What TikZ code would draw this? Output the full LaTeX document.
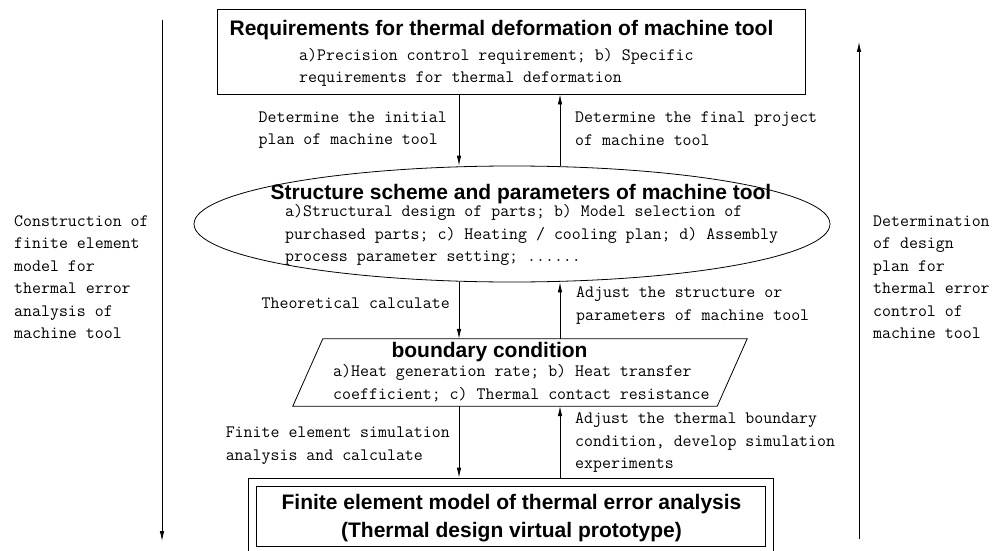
\documentclass[tikz,border=0pt]{standalone}
\usepackage{fontspec}
\newfontfamily\headfont{Liberation Sans}
\usetikzlibrary{arrows.meta,shapes.geometric}

\tikzset{
  flowline/.style={line width=0.8pt,-{Latex[length=10pt,width=4.5pt]}},
  frame/.style={draw,line width=0.8pt,inner sep=0pt},
  headtext/.style={font=\headfont\bfseries\fontsize{21}{28}\selectfont,inner sep=0pt},
  bodytext/.style={font=\ttfamily\fontsize{17.4}{22.5}\selectfont,align=left,inner sep=0pt},
}

\begin{document}
\begin{tikzpicture}[x=1pt,y=-1pt]
\useasboundingbox (0,0) rectangle (1001,551);
\newcommand{\dnx}{459}
\newcommand{\upx}{560}
\coordinate (dnline) at (\dnx,0);
\coordinate (upline) at (\upx,0);

% frames
\node[frame,minimum width=588pt,minimum height=85pt] (reqbox) at (511,51.5) {};
\node[frame,ellipse,minimum width=636pt,minimum height=116pt] (schemeell) at (512,224) {};
\node[inner sep=0pt,minimum width=424pt,minimum height=67pt] (bcbox) at (505,372.5) {};
\draw[line width=0.8pt] (bcbox.south west) -- (bcbox.south east) -- ([xshift=30pt]bcbox.north east) -- ([xshift=30pt]bcbox.north west) -- cycle;
\node[frame,minimum width=525pt,minimum height=76pt] (femouter) at (510.5,516) {};
\node[frame,minimum width=509pt,minimum height=60pt] (feminner) at (510.5,516) {};

% texts in the frames (base = last line)
\node[headtext,anchor=base] (reqtitle) at (501.5,35.5) {Requirements for thermal deformation of machine tool};
\node[bodytext,anchor=base west] (reqtext) at (299,82.5) {a)Precision control requirement; b) Specific\\requirements for thermal deformation};
\node[headtext,anchor=base] (schemetitle) at (521,199) {Structure scheme and parameters of machine tool};
\node[bodytext,anchor=base west] (schemetext) at (285,261.5) {a)Structural design of parts; b) Model selection of\\purchased parts; c) Heating / cooling plan; d) Assembly\\process parameter setting; ......};
\node[headtext,anchor=base] (bctitle) at (489.5,357.5) {boundary condition};
\node[bodytext,anchor=base west] (bctext) at (333,399) {a)Heat generation rate; b) Heat transfer\\coefficient; c) Thermal contact resistance};
\node[headtext,align=center] (femtext) at (511.5,518.5) {Finite element model of thermal error analysis\\(Thermal design virtual prototype)};

% connectors
\draw[flowline] (reqbox.south -| dnline) -- (schemeell.north -| dnline);
\draw[flowline] (schemeell.north -| upline) -- (reqbox.south -| upline);
\draw[flowline] (schemeell.south -| dnline) -- (bcbox.north -| dnline);
\draw[flowline] (bcbox.north -| upline) -- (schemeell.south -| upline);
\draw[flowline] (bcbox.south -| dnline) -- (femouter.north -| dnline);
\draw[flowline] (femouter.north -| upline) -- (bcbox.south -| upline);

\node[bodytext,anchor=base east] (initlabel) at (447,144.5) {Determine the initial\\plan of machine tool};
\node[bodytext,anchor=base west] (finallabel) at (575,145) {Determine the final project\\of machine tool};
\node[bodytext,anchor=base east] (calclabel) at (450,308) {Theoretical calculate};
\node[bodytext,anchor=base west] (adjustlabel) at (576,320) {Adjust the structure or\\parameters of machine tool};
\node[bodytext,anchor=base east] (simlabel) at (450,460) {Finite element simulation\\analysis and calculate};
\node[bodytext,anchor=base west] (thermlabel) at (575,468.5) {Adjust the thermal boundary\\condition, develop simulation\\experiments};

% side arrows
\coordinate (leftstart) at (162,20);
\coordinate (leftend) at (162,541);
\coordinate (rightstart) at (859,539);
\coordinate (rightend) at (859,42);
\draw[flowline] (leftstart) -- (leftend);
\draw[flowline] (rightstart) -- (rightend);
\node[bodytext,anchor=base west] (leftlabel) at (14,338.5) {Construction of\\finite element\\model for\\thermal error\\analysis of\\machine tool};
\node[bodytext,anchor=base west] (rightlabel) at (873,338.5) {Determination\\of design\\plan for\\thermal error\\control of\\machine tool};
\end{tikzpicture}
\end{document}
